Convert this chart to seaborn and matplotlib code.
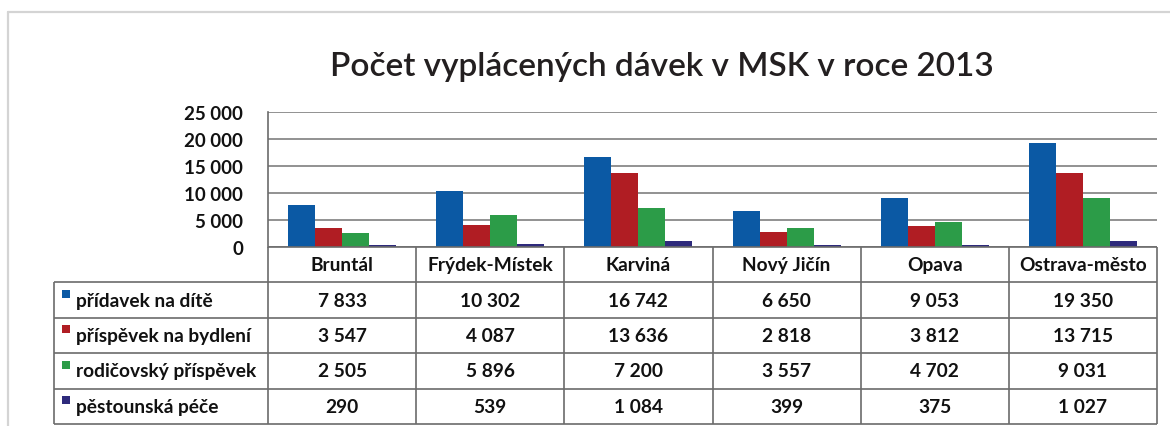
import numpy as np
import pandas as pd
import matplotlib
matplotlib.use("Agg")
import matplotlib.pyplot as plt
import seaborn as sns
from matplotlib.ticker import FuncFormatter
from matplotlib.lines import Line2D
from matplotlib.patches import Rectangle

# ---- data ----
districts = ["Bruntál", "Frýdek-Místek", "Karviná", "Nový Jičín", "Opava", "Ostrava-město"]
series_names = ["přídavek na dítě", "příspěvek na bydlení", "rodičovský příspěvek", "pěstounská péče"]
pridavek_na_dite = [7833, 10302, 16742, 6650, 9053, 19350]
prispevek_na_bydleni = [3547, 4087, 13636, 2818, 3812, 13715]
rodicovsky_prispevek = [2505, 5896, 7200, 3557, 4702, 9031]
pestounska_pece = [290, 539, 1084, 399, 375, 1027]
y_ticks = [0, 5000, 10000, 15000, 20000, 25000]
title = "Počet vyplácených dávek v MSK v roce 2013"

colors = ["#0b59a4", "#b01d23", "#2c9c48", "#2e2a7c"]

series_values = [pridavek_na_dite, prispevek_na_bydleni, rodicovsky_prispevek, pestounska_pece]
rows = []
for name, vals in zip(series_names, series_values):
    for d, v in zip(districts, vals):
        rows.append({"okres": d, "davka": name, "pocet": v})
df = pd.DataFrame(rows)


def fmt(v):
    return f"{int(v):,}".replace(",", " ")


sns.set_theme(style="white")
plt.rcParams["font.family"] = ["Lato", "DejaVu Sans"]

W, H = 1170, 427
fig = plt.figure(figsize=(W / 100, H / 100), dpi=100)
fig.patch.set_facecolor("white")


def fx(px):
    return px / W


def fy(py):
    return 1 - py / H


# outer frame
fig.add_artist(Line2D([fx(8), fx(8)], [fy(13), fy(440)], transform=fig.transFigure,
                      color="#d4d4d4", lw=1.6))
fig.add_artist(Line2D([fx(8), fx(1175)], [fy(13), fy(13)], transform=fig.transFigure,
                      color="#d4d4d4", lw=1.6))

# title
fig.text(fx(662), fy(67), title, ha="center", va="center", fontsize=24,
         fontweight="semibold", color="#231f20")

# ---- bar chart ----
L, R, T, B = 268, 1157, 113, 248
ax = fig.add_axes([fx(L), fy(B), fx(R) - fx(L), fy(T) - fy(B)])
sns.barplot(data=df, x="okres", y="pocet", hue="davka", order=districts,
            hue_order=series_names, palette=colors, width=0.73, linewidth=0,
            saturation=1, errorbar=None, legend=False, ax=ax)
ax.set_xlim(-0.5, len(districts) - 0.5)
ax.set_ylim(0, 25000)
ax.set_yticks(y_ticks)
ax.yaxis.set_major_formatter(FuncFormatter(lambda v, p: fmt(v)))
ax.set_xticks([])
ax.set_xlabel("")
ax.set_ylabel("")
ax.yaxis.grid(True, color="#7f7f7f", lw=1.2)
ax.set_axisbelow(True)
for s in ["top", "right", "bottom"]:
    ax.spines[s].set_visible(False)
ax.spines["left"].set_color("#6b6b6b")
ax.spines["left"].set_linewidth(1.2)
ax.tick_params(axis="y", length=0, pad=18, labelsize=13.5, labelcolor="#111111")
for lab in ax.get_yticklabels():
    lab.set_fontweight("bold")
ax.patch.set_alpha(0)

# ---- data table ----
TL, TT, TB = 54, 248, 425
colw = (R - L) / len(districts)
rowlab_w = (L - TL) / colw
axt = fig.add_axes([fx(TL), fy(TB), fx(R) - fx(TL), fy(TT) - fy(TB)])
axt.set_xlim(-rowlab_w, len(districts))
axt.set_ylim(0, 5)
axt.axis("off")
lc, lw = "#6b6b6b", 1.2
n = len(districts)
# horizontal lines
axt.plot([0, n], [5, 5], color=lc, lw=lw, clip_on=False, solid_capstyle="butt")
for yy in range(0, 5):
    axt.plot([-rowlab_w, n], [yy, yy], color=lc, lw=lw, clip_on=False, solid_capstyle="butt")
# vertical lines
for xx in range(0, n + 1):
    axt.plot([xx, xx], [0, 5], color=lc, lw=lw, clip_on=False, solid_capstyle="butt")
axt.plot([-rowlab_w, -rowlab_w], [0, 4], color=lc, lw=lw, clip_on=False, solid_capstyle="butt")

tfs = 13.8
for i, d in enumerate(districts):
    axt.text(i + 0.5, 4.5, d, ha="center", va="center", fontsize=tfs, fontweight="bold",
             color="#111111")
for r, (name, vals, c) in enumerate(zip(series_names, series_values, colors)):
    yc = 3.5 - r
    for i, v in enumerate(vals):
        axt.text(i + 0.5, yc, fmt(v), ha="center", va="center", fontsize=tfs,
                 fontweight="bold", color="#111111")
    sq_w = 8 / colw
    sq_h = 8 / 35.4
    axt.add_patch(Rectangle((-rowlab_w + 8 / colw, yc + 0.06), sq_w, sq_h,
                            facecolor=c, edgecolor="none", clip_on=False))
    axt.text(-rowlab_w + 22 / colw, yc, name, ha="left", va="center", fontsize=tfs,
             fontweight="bold", color="#111111")

fig.savefig("out.png", dpi=100)
